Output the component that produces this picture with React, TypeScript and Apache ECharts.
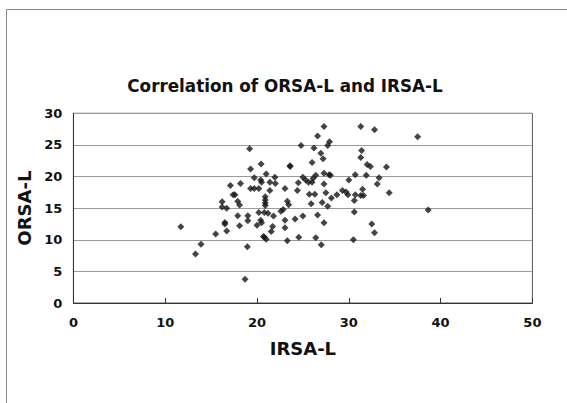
import React, { useEffect, useRef } from "react";
import * as echarts from "echarts";

const chartTitle = "Correlation of ORSA-L and IRSA-L";
const xAxisName = "IRSA-L";
const yAxisName = "ORSA-L";

const irsaValues = [
  11.7, 13.3, 13.9, 15.5, 16.2, 16.2, 16.5, 16.5, 16.7, 16.7,
  17.1, 17.4, 17.6, 17.9, 18.1, 17.9, 18.1, 18.2, 19.2, 19.3,
  19.0, 19.0, 18.95, 18.7, 19.3, 19.7, 19.7, 20.2, 20.0, 20.2,
  20.45, 20.4, 20.5, 20.4, 20.5, 20.8, 20.9, 20.9, 20.9, 20.9,
  20.8, 21.0, 21.0, 21.2, 21.4, 21.4, 21.55, 21.7, 21.8, 21.95,
  22.0, 20.7, 22.6, 22.85, 23.05, 23.05, 23.05, 23.3, 23.45, 23.3,
  23.6, 23.6, 24.15, 24.5, 24.4, 24.55, 24.8, 25.0, 25.0, 25.3,
  25.6, 26.0, 25.7, 25.9, 26.0, 26.1, 26.2, 26.3, 26.4, 26.4,
  26.6, 26.6, 26.95, 27.0, 27.1, 27.2, 27.3, 27.3, 27.3, 27.3,
  27.5, 27.7, 27.7, 27.9, 27.85, 28.0, 28.1, 28.7, 29.3, 29.7,
  29.9, 30.0, 30.5, 30.6, 30.6, 30.7, 30.7, 31.3, 31.3, 31.4,
  31.3, 31.5, 31.6, 31.9, 32.0, 32.35, 32.5, 32.8, 32.8, 33.1,
  33.3, 34.1, 34.4, 37.5, 38.65,
];

const orsaValues = [
  12.07, 7.75, 9.28, 10.9, 16.0, 15.2, 12.75, 12.5, 15.0, 11.4,
  18.6, 17.1, 17.1, 16.1, 15.5, 13.8, 12.2, 18.9, 24.4, 21.2,
  13.8, 13.0, 8.9, 3.74, 18.1, 19.8, 18.1, 18.1, 12.3, 14.3,
  22.0, 19.45, 19.1, 13.1, 12.7, 10.4, 16.8, 16.3, 15.8, 15.4,
  14.3, 20.4, 10.1, 14.2, 19.1, 17.8, 11.3, 12.1, 13.75, 19.9,
  18.9, 10.5, 14.5, 14.8, 18.1, 13.1, 11.9, 16.1, 15.55, 9.86,
  21.7, 21.6, 13.3, 19.0, 17.8, 10.4, 24.9, 19.9, 13.75, 19.45,
  19.1, 22.2, 17.2, 15.7, 19.1, 19.7, 24.5, 17.2, 20.2, 10.3,
  26.4, 13.9, 23.7, 9.2, 15.9, 22.8, 27.9, 18.8, 20.5, 12.7,
  17.45, 15.3, 24.9, 25.5, 20.3, 20.2, 16.6, 17.1, 17.8, 17.55,
  17.1, 19.45, 10.0, 14.4, 16.2, 17.1, 20.3, 27.9, 23.0, 24.1,
  17.0, 18.0, 17.0, 20.2, 21.9, 21.6, 12.5, 27.4, 11.1, 18.8,
  19.8, 21.5, 17.45, 26.3, 14.7,
];

const labelFont = "DejaVu Sans";

export default function App() {
  const ref = useRef<HTMLDivElement>(null);

  useEffect(() => {
    if (!ref.current) return;
    const chart = echarts.init(ref.current, null, { renderer: "svg" });
    const points = irsaValues.map((x, i) => [x, orsaValues[i]]);
    chart.setOption({
      animation: false,
      backgroundColor: "#ffffff",
      title: {
        text: chartTitle,
        left: 280,
        top: 72,
        textAlign: "center",
        textStyle: {
          fontFamily: labelFont,
          fontWeight: "bold",
          fontSize: 16.8,
          color: "#111",
        },
      },
      graphic: [
        {
          type: "rect",
          shape: { x: 6.5, y: 9.5, width: 620, height: 460 },
          style: { fill: "none", stroke: "#8a8a8a", lineWidth: 1 },
          silent: true,
        },
      ],
      grid: {
        left: 73.4,
        right: 34.6,
        top: 113.3,
        bottom: 100,
        show: true,
        borderColor: "#555",
        borderWidth: 1,
      },
      xAxis: {
        type: "value",
        min: 0,
        max: 50,
        interval: 10,
        name: xAxisName,
        nameLocation: "middle",
        nameGap: 36,
        nameTextStyle: {
          fontFamily: labelFont,
          fontWeight: "bold",
          fontSize: 18,
          color: "#111",
        },
        axisLine: { show: true, lineStyle: { color: "#333", width: 1 } },
        axisTick: { show: true, inside: true, length: 5, lineStyle: { color: "#333" } },
        axisLabel: {
          margin: 13,
          fontFamily: labelFont,
          fontWeight: "bold",
          fontSize: 13,
          color: "#111",
        },
        splitLine: { show: false },
      },
      yAxis: {
        type: "value",
        min: 0,
        max: 30,
        interval: 5,
        name: yAxisName,
        nameLocation: "middle",
        nameGap: 36,
        nameTextStyle: {
          fontFamily: labelFont,
          fontWeight: "bold",
          fontSize: 18,
          color: "#111",
        },
        axisLine: { show: true, lineStyle: { color: "#333", width: 1 } },
        axisTick: { show: false },
        axisLabel: {
          margin: 11,
          fontFamily: labelFont,
          fontWeight: "bold",
          fontSize: 13,
          color: "#111",
        },
        splitLine: { show: true, lineStyle: { color: "#9a9a9a", width: 1 } },
      },
      series: [
        {
          type: "scatter",
          data: points,
          symbol: "diamond",
          symbolSize: 7,
          itemStyle: { color: "#151515" },
        },
      ],
    });
    return () => chart.dispose();
  }, []);

  return (
    <div
      ref={ref}
      style={{ position: "absolute", left: 0, top: 0, width: 567, height: 403 }}
    />
  );
}
